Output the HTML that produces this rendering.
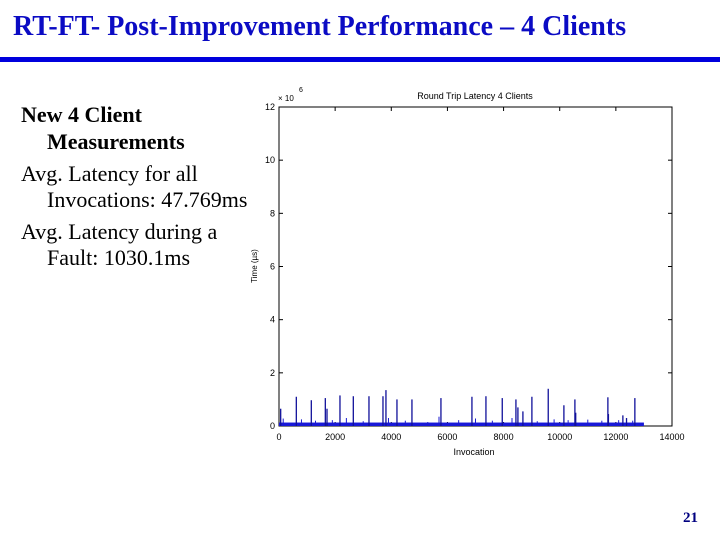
<!DOCTYPE html>
<html><head><meta charset="utf-8"><style>
body{margin:0;width:720px;height:540px;background:#fff;overflow:hidden;position:relative;font-family:"Liberation Serif",serif}
#title{position:absolute;left:13px;top:11px;font-size:28px;font-weight:bold;color:#0b0bc4;white-space:nowrap}
#bar{position:absolute;left:0;top:57px;width:720px;height:5px;background:#0000dd}
.t{position:absolute;font-size:22px;color:#000;white-space:nowrap}
#num{position:absolute;left:683px;top:510px;font-size:15px;font-weight:bold;color:#000080}
svg{position:absolute;left:0;top:0}
</style></head><body>
<div id="title">RT-FT- Post-Improvement Performance – 4 Clients</div>
<div id="bar"></div>
<div class="t" style="left:21px;top:102px;font-weight:bold">New 4 Client</div>
<div class="t" style="left:47px;top:129px;font-weight:bold">Measurements</div>
<div class="t" style="left:21px;top:161px">Avg. Latency for all</div>
<div class="t" style="left:47px;top:187px">Invocations: 47.769ms</div>
<div class="t" style="left:21px;top:219px">Avg. Latency during a</div>
<div class="t" style="left:47px;top:245px">Fault: 1030.1ms</div>
<div id="num">21</div>
<svg id="chart" width="720" height="540"></svg>
<script>
const xTicks=[0,2000,4000,6000,8000,10000,12000,14000];
const xTickLabels=["0","2000","4000","6000","8000","10000","12000","14000"];
const yTicks=[0,2,4,6,8,10,12];
const spikeX=[60,617,1151,1650,1710,2172,2647,3205,3704,3810,4202,4736,5769,6873,7372,7953,8440,8511,8689,9009,9591,10149,10541,10570,11716,11735,12250,12380,12677];
const spikeY=[0.65,1.1,0.97,1.05,0.65,1.15,1.12,1.12,1.12,1.35,1.0,1.0,1.05,1.1,1.12,1.05,1.0,0.7,0.55,1.1,1.4,0.78,1.0,0.5,1.08,0.45,0.4,0.3,1.05];
const noiseX=[150,800,1300,1900,2400,3000,3900,4500,5300,5700,6400,7000,7600,8300,9200,9800,10300,11000,11500,12100,12600];
const noiseY=[0.28,0.25,0.2,0.22,0.3,0.18,0.3,0.2,0.15,0.35,0.22,0.28,0.2,0.3,0.18,0.25,0.22,0.24,0.2,0.22,0.2];
const baseLevel=0.13, dataEnd=13000;
const X0=279,X1=672,Y0=426,Y1=107;
const sx=v=>X0+(v/14000)*(X1-X0);
const sy=v=>Y0-(v/12)*(Y0-Y1);
const svg=document.getElementById('chart');
const NS='http://www.w3.org/2000/svg';
function mk(tag,attrs){const e=document.createElementNS(NS,tag);for(const k in attrs)e.setAttribute(k,attrs[k]);svg.appendChild(e);return e;}
let e;
e=mk('rect',{x:X0,y:Y1,width:X1-X0,height:Y0-Y1,fill:'#fff',stroke:'#000','stroke-width':1});


xTicks.forEach((v,i)=>{
 const l=mk('line',{x1:sx(v),x2:sx(v),y1:Y0,y2:Y0-4,stroke:'#000'});
 
 
 const l2=mk('line',{x1:sx(v),x2:sx(v),y1:Y1,y2:Y1+4,stroke:'#000'});
 
 
 const t=mk('text',{x:sx(v),y:Y0+14,'font-size':9,'font-family':'Liberation Sans, sans-serif','text-anchor':'middle'});
 t.textContent=xTickLabels[i];
 
 
});
yTicks.forEach(v=>{
 const l=mk('line',{x1:X0,x2:X0+4,y1:sy(v),y2:sy(v),stroke:'#000'});
 
 
 const l2=mk('line',{x1:X1,x2:X1-4,y1:sy(v),y2:sy(v),stroke:'#000'});
 
 
 const t=mk('text',{x:X0-4,y:sy(v)+3,'font-size':9,'font-family':'Liberation Sans, sans-serif','text-anchor':'end'});
 t.textContent=String(v);
 
 
});
e=mk('rect',{x:sx(0),y:sy(baseLevel),width:sx(dataEnd)-sx(0),height:sy(0)-sy(baseLevel),fill:'#1818d8'});


noiseX.forEach((v,i)=>{
 const l=mk('line',{x1:sx(v),x2:sx(v),y1:sy(0),y2:sy(noiseY[i]),stroke:'#1a1ad0','stroke-width':1});
 
 
});
spikeX.forEach((v,i)=>{
 const l=mk('line',{x1:sx(v),x2:sx(v),y1:sy(0),y2:sy(spikeY[i]),stroke:'#10109a','stroke-width':1.3});
 
 
});
e=mk('text',{x:475,y:99,'font-size':9,'font-family':'Liberation Sans, sans-serif','text-anchor':'middle'});
e.textContent='Round Trip Latency 4 Clients';


e=mk('text',{x:474,y:455,'font-size':9,'font-family':'Liberation Sans, sans-serif','text-anchor':'middle'});
e.textContent='Invocation';


e=mk('text',{x:0,y:0,'font-size':8,'font-family':'Liberation Sans, sans-serif','text-anchor':'middle',transform:'translate(257,266) rotate(-90)'});
e.textContent='Time (µs)';


e=mk('text',{x:278,y:101,'font-size':8,'font-family':'Liberation Sans, sans-serif'});
e.textContent='× 10';


e=mk('text',{x:299,y:92,'font-size':7,'font-family':'Liberation Sans, sans-serif'});
e.textContent='6';


</script>
</body></html>
